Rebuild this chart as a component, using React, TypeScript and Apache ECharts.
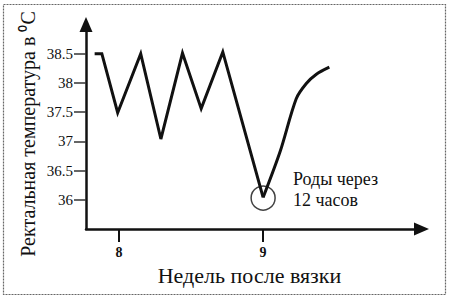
import React, { useEffect, useRef } from "react";
import * as echarts from "echarts";

const zigWeeks = [7.83, 7.88, 7.99, 8.15, 8.29, 8.44, 8.57, 8.72, 9.0];
const zigTemps = [38.5, 38.5, 37.49, 38.5, 37.04, 38.51, 37.56, 38.53, 36.04];
const curveWeeks = [9.0, 9.12, 9.23, 9.3, 9.37, 9.46];
const curveTemps = [36.04, 36.84, 37.73, 37.99, 38.15, 38.27];
const birthPoint = [9.0, 36.03];
const yTicks = [36, 36.5, 37, 37.5, 38, 38.5];
const xTicks = [8, 9];
const xTitle = "Недель после вязки";
const yTitle = "Ректальная температура в ⁰C";
const noteLines = ["Роды через", "12 часов"];

const FONT = "'Liberation Serif', 'Times New Roman', serif";

export default function App() {
  const ref = useRef<HTMLDivElement>(null);
  useEffect(() => {
    if (!ref.current) return;
    const chart = echarts.init(ref.current, undefined, { renderer: "svg" });
    const zig = zigWeeks.map((w, i) => [w, zigTemps[i]]);
    const curve = curveWeeks.map((w, i) => [w, curveTemps[i]]);
    chart.setOption({
      animation: false,
      backgroundColor: "#fff",
      textStyle: { fontFamily: FONT },
      grid: { left: 86, right: 28.5, top: 24.5, bottom: 70, containLabel: false },
      xAxis: {
        type: "value",
        min: 7.77,
        max: 10.1,
        axisLine: {
          show: true,
          onZero: false,
          symbol: ["none", "triangle"],
          symbolSize: [13, 15],
          lineStyle: { color: "#111", width: 2.5 },
        },
        axisTick: {
          show: true,
          length: 13,
          customValues: xTicks,
          lineStyle: { color: "#111", width: 2 },
        },
        axisLabel: {
          customValues: xTicks,
          margin: 16,
          color: "#111",
          fontFamily: FONT,
          fontSize: 14,
          fontWeight: "bold",
        },
        splitLine: { show: false },
      },
      yAxis: {
        type: "value",
        min: 35.5,
        max: 39,
        interval: 0.5,
        axisLine: {
          show: true,
          symbol: ["none", "triangle"],
          symbolSize: [13, 15],
          lineStyle: { color: "#111", width: 2.5 },
        },
        axisTick: {
          show: true,
          length: 12,
          customValues: yTicks,
          lineStyle: { color: "#333", width: 1.5 },
        },
        axisLabel: {
          customValues: yTicks,
          margin: 13,
          color: "#111",
          fontFamily: FONT,
          fontSize: 15,
        },
        splitLine: { show: false },
      },
      series: [
        {
          type: "line",
          data: zig,
          symbol: "none",
          lineStyle: { color: "#111", width: 3, join: "miter" },
        },
        {
          type: "line",
          data: curve,
          symbol: "none",
          smooth: 0.3,
          lineStyle: { color: "#111", width: 3 },
        },
        {
          type: "scatter",
          data: [birthPoint],
          symbol: "circle",
          symbolSize: 24,
          itemStyle: { color: "transparent", borderColor: "#111", borderWidth: 1.5 },
        },
      ],
      graphic: [
        {
          type: "rect",
          shape: { x: 3.5, y: 4.5, width: 442, height: 290 },
          style: { fill: "none", stroke: "#666", lineWidth: 1.2, lineDash: [2, 1] },
        },
        {
          type: "text",
          x: 249.5,
          y: 275,
          style: {
            text: xTitle,
            fontFamily: FONT,
            fontSize: 22,
            fill: "#111",
            align: "center",
            verticalAlign: "middle",
          },
        },
        {
          type: "text",
          x: 28,
          y: 134,
          rotation: Math.PI / 2,
          style: {
            text: yTitle,
            fontFamily: FONT,
            fontSize: 20,
            fill: "#111",
            align: "center",
            verticalAlign: "middle",
          },
        },
        {
          type: "text",
          x: 293,
          y: 179,
          style: {
            text: noteLines[0],
            fontFamily: FONT,
            fontSize: 18,
            fill: "#111",
            align: "left",
            verticalAlign: "middle",
          },
        },
        {
          type: "text",
          x: 293,
          y: 200,
          style: {
            text: noteLines[1],
            fontFamily: FONT,
            fontSize: 18,
            fill: "#111",
            align: "left",
            verticalAlign: "middle",
          },
        },
      ],
    });
    return () => chart.dispose();
  }, []);
  return (
    <div
      ref={ref}
      style={{ position: "fixed", left: 0, top: 0, width: 450, height: 299 }}
    />
  );
}
